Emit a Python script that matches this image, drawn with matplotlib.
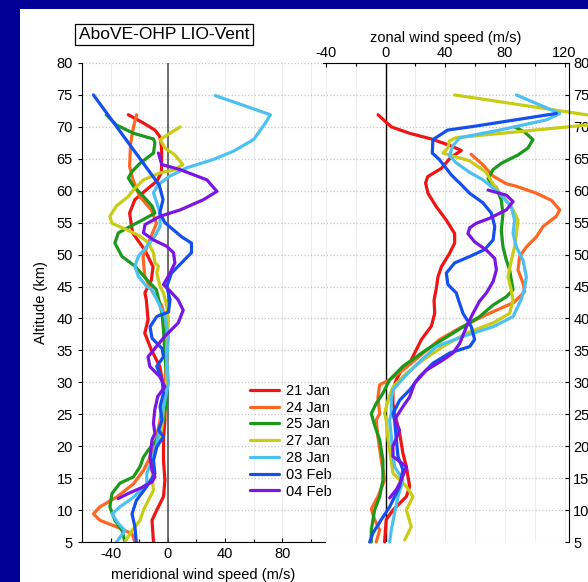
import matplotlib
matplotlib.use("Agg")
import matplotlib.pyplot as plt
from matplotlib.patches import Rectangle
from matplotlib.ticker import MultipleLocator

plt.rcParams["font.family"] = ["Liberation Sans", "DejaVu Sans"]
plt.rcParams["axes.unicode_minus"] = False

dates = ["21 Jan", "24 Jan", "25 Jan", "27 Jan", "28 Jan", "03 Feb", "04 Feb"]
colors = ["#f01414", "#ff6622", "#1a991a", "#c8cc14", "#4dc0f2", "#1450ee", "#7a16e4"]

# meridional wind (m/s), altitude (km)
mer_21jan = [(-27.6, 71.9), (-17, 70.6), (-9, 69.5), (-5.6, 68.5), (-4.4, 66.9), (-4.2, 65.4), (-4.5, 62.8),
             (-7.7, 61.5), (-14.7, 60.2), (-23, 58.6), (-26.7, 56.5), (-24.6, 53.4), (-16, 50.7), (-10.3, 48.1),
             (-11.5, 46), (-16, 44), (-15, 42.9), (-13.8, 39.8), (-16.1, 37.7), (-11.5, 35.1), (-5.6, 32.5),
             (-3, 29.3), (-2, 27.2), (-2, 24.1), (-3, 21), (-3, 17.8), (-2, 14.7), (-3, 12.1), (-7.7, 10),
             (-11, 8.4), (-10, 5)]
mer_24jan = [(-21.8, 71.9), (-24, 70), (-26, 67.4), (-26.7, 63.8), (-24.3, 61.7), (-19.6, 59.1), (-11.5, 57),
             (-7.9, 54.9), (-12.6, 52.3), (-17.3, 49.7), (-16.1, 46.6), (-10.3, 44), (-4.4, 42.1), (-1.5, 40),
             (-0.7, 37.7), (-0.7, 33.5), (-2, 30.4), (-3, 27.2), (-5.4, 24.1), (-7.7, 21.5), (-11, 18.9),
             (-17, 16.2), (-24, 14.1), (-36, 12), (-47.5, 10.5), (-52, 9.4), (-47.5, 8.4), (-36, 7.4),
             (-25, 6.3), (-23, 5)]
mer_25jan = [(-43, 71.9), (-36, 70.3), (-24, 69), (-10, 68.1), (-9, 67.5), (-10, 65.9), (-19.4, 64.3),
             (-25, 63), (-27.6, 62), (-24, 60.7), (-17, 59.1), (-11, 57.6), (-9, 56.5), (-17, 55.5),
             (-26.4, 54.4), (-34.6, 53.4), (-37, 51.8), (-32, 49.7), (-23, 48.2), (-14.7, 46.1), (-8, 44.5),
             (-4, 40.8), (-3, 38.2), (-2, 34.5), (-0.7, 30.4), (-0.7, 27.2), (-3, 24.1), (-7.7, 21),
             (-13.6, 19.4), (-17, 18.3), (-19.4, 16.8), (-24, 15.2), (-33.5, 14.2), (-39, 12.6),
             (-40.5, 10.5), (-37, 8.4), (-32, 6.8), (-30, 5)]
mer_27jan = [(8.7, 70), (1.6, 69), (-5.4, 68), (-1.9, 66.7), (5, 65.6), (10.5, 64.1), (5, 63.3), (-5.4, 62.8),
             (-17, 61.7), (-23, 60.4), (-27.6, 59.1), (-36, 57.6), (-40.5, 56), (-39, 54.9), (-28.8, 53.9),
             (-19.4, 52.9), (-13.6, 51.8), (-10, 50.3), (-9, 48.7), (-6.5, 48.2), (-7.7, 47.1), (-5.4, 45),
             (-3, 44), (-0.7, 41.9), (0.5, 39.8), (-0.7, 35.6), (-0.7, 30.4), (-3, 26.2), (-4, 23),
             (-7.7, 19.9), (-10, 17.8), (-11, 15.2), (-10, 13.1), (-13.6, 11.5), (-17, 10), (-19.4, 8.4),
             (-25, 6.8), (-30, 5)]
mer_28jan = [(33.2, 74.9), (71.8, 71.9), (68.3, 70.6), (60, 68), (46, 66.2), (32, 64.9), (13.3, 63.6),
             (1.6, 62.3), (-6.5, 61), (-10, 59.7), (-7.7, 58.1), (-5.4, 56.5), (-5.4, 54.4), (-9, 52.9),
             (-14.7, 51.3), (-20.6, 49.7), (-23, 48.2), (-20.6, 46.6), (-14.7, 45), (-11, 44.5), (-6.5, 42.4),
             (-2, 40.3), (0.5, 37.2), (-0.7, 33.5), (0.5, 29.8), (-3, 26.2), (-5.4, 23), (-7.7, 20.4),
             (-11, 17.8), (-14.7, 15.7), (-14.7, 14.1), (-24, 12), (-33.5, 10.5), (-39, 9.4), (-34.6, 7.9),
             (-30, 6.8), (-35.8, 5)]
mer_03feb = [(-52, 75), (-6, 60.9), (-3.3, 58.6), (-5.6, 56.5), (-2, 55), (9.6, 52.8), (16.6, 51.8),
             (16.6, 50.3), (9.6, 48.7), (2.6, 47.1), (-0.7, 45), (1.6, 42.9), (0.5, 41), (-7.7, 40.3),
             (-12.4, 38.7), (-11, 36.9), (-4, 35.3), (-3, 34), (-7.7, 32.5), (-4, 30.4), (-3, 28.3),
             (-5.4, 26.2), (-4, 24.1), (-6.5, 22.5), (-3, 21.5), (-7.7, 19.9), (-10, 17.8), (-9, 15.7),
             (-15, 13.6), (-22, 11.5), (-25, 9.4), (-23, 7.4), (-22, 5)]
mer_04feb = [(-6.5, 65.9), (-4.2, 64.1), (8.7, 63.3), (27.4, 61.7), (34.4, 59.9), (25, 58.6), (8.7, 57),
             (-5.4, 56), (-15.9, 54.7), (-17, 53.4), (-10, 52.3), (-0.7, 51.3), (4, 50.3), (5, 48.7),
             (1.6, 47.1), (-3, 45.3), (1.6, 44.3), (7.3, 42.9), (10.8, 41.3), (7.3, 39.3), (-2.1, 37.2),
             (-13.8, 34), (-12.6, 32.5), (-5.6, 30.9), (-2, 29.3), (-7, 27.8), (-9.1, 25.7), (-10, 23.6),
             (-9, 22), (-11, 21), (-12.4, 18.3), (-11, 16.2), (-9, 15.2), (-11, 14.4), (-19.4, 13.4),
             (-27.6, 12.6), (-34.6, 11.8)]

# zonal wind (m/s), altitude (km)
zon_21jan = [(-5.1, 71.9), (3.8, 70), (16, 69), (30.7, 68.1), (43, 67.1), (50.8, 66.3), (43.6, 65.2),
             (37.4, 63.5), (28.2, 62.2), (26.8, 61.2), (28.4, 59.6), (34, 57.5), (40.7, 55.4), (46.3, 53.3),
             (46.3, 51.8), (42.9, 50.2), (37.4, 48.1), (35.1, 46.5), (34, 44.7), (32.5, 42.9), (32.9, 40.8),
             (30.7, 38.8), (24, 36.7), (19.5, 34.6), (16.1, 33), (10.5, 31.9), (7.2, 30.4), (4.9, 28.8),
             (4.9, 26.7), (6, 25.1), (7.2, 24.1), (9.4, 22), (11.6, 18.9), (13.9, 16.8), (16.1, 13.7),
             (13.9, 12.1), (4.9, 10), (0.4, 8.5), (-0.7, 5)]
zon_24jan = [(57.3, 65.7), (65.1, 64.1), (72, 62.3), (80.9, 61.1), (87.7, 60.7), (101.2, 59.6), (111.2, 58.5),
             (116.8, 57), (114.5, 56), (105.6, 54.4), (101.2, 52.8), (94.4, 51.2), (89.9, 49.7), (88.8, 47.6),
             (92.2, 45.5), (93.3, 44.2), (86, 42.5), (67.6, 40.6), (49.7, 38.5), (36.2, 36.7), (22.8, 34.1),
             (11.6, 31.9), (2.7, 30.4), (-4, 29.6), (-5.2, 27.7), (-4, 25.1), (-6.3, 24.1), (-5.2, 21.5),
             (-2.9, 17.8), (-0.7, 14.7), (-5.2, 12.1), (-9.6, 10.2), (-7.4, 8.5), (-4, 6.9), (-6.3, 5)]
zon_25jan = [(86.5, 70), (93.2, 69.2), (98.8, 68), (95.5, 66.7), (88.8, 65.6), (77.6, 64.3), (72, 63.3),
             (68.7, 61.9), (70.9, 61.1), (74.3, 60.5), (77.6, 58.5), (78.7, 56.4), (77.6, 53.8), (78.7, 51.2),
             (81, 49.1), (83.2, 47.6), (84.3, 46), (85.5, 44.5), (81, 43.4), (72.1, 42.1), (63.1, 40.3),
             (45.2, 37.7), (27.3, 35.1), (11.6, 32.5), (2.7, 30.4), (-1.8, 28.3), (-6.3, 26.7), (-9.6, 25.1),
             (-7.4, 23.3), (-4, 21), (-1.8, 17.8), (-1.8, 14.7), (-4, 12.1), (-7.4, 10), (-9.6, 6.9), (-9.6, 5)]
zon_27jan = [(46.3, 75), (140, 71.7), (140, 70.4), (47.2, 68.3), (42.8, 67.8), (41.8, 66.7), (38.5, 65.9),
             (44, 65.5), (56.2, 64.7), (67.4, 62.9), (71.9, 61.1), (78.7, 59.1), (85.5, 57), (88.8, 55.4),
             (87.7, 53.3), (86.5, 51.2), (84.3, 49.1), (82.1, 46.5), (84.3, 44.4), (85.5, 42.9), (83.2, 40.8),
             (72.1, 39.3), (54.2, 37.7), (38.5, 35.6), (25.1, 33.5), (13.9, 31.4), (4.9, 29.3), (1.6, 27.2),
             (-0.7, 25.1), (0.4, 24.1), (1.6, 21), (3.8, 17.8), (4.9, 15.8), (13.9, 13.7), (18.3, 12.1),
             (13.9, 10), (17.2, 7.4), (12.8, 5.3)]
zon_28jan = [(87.7, 75), (116.8, 72.1), (108, 71.1), (76.5, 69.5), (49.7, 68.3), (45, 67), (42.8, 65.5),
             (47.2, 64.4), (56.2, 62.9), (65.3, 61.7), (76.5, 59.6), (84.3, 57.5), (86.5, 55.4), (85.5, 53.3),
             (87.7, 51.2), (92.2, 49.1), (94.4, 46.5), (93.3, 44.9), (91, 43), (85.5, 40.3), (72.1, 38.7),
             (52, 37.2), (34, 35.6), (21.7, 33), (12.8, 30.9), (4.9, 28.8), (3.8, 27.2), (3.8, 25.1),
             (2.7, 24.1), (3.8, 21.5), (4.9, 18.9), (6, 16.8), (11.6, 14.7), (8.3, 12.1), (6, 9.5),
             (3.8, 6.9), (2.7, 5)]
zon_03feb = [(114.5, 72.1), (59.7, 70.1), (41.6, 69.5), (31.7, 68), (31.3, 65.9), (36, 64.9), (44, 62.5),
             (47.4, 61.7), (49.7, 61.2), (56.4, 59.6), (65.3, 58.1), (70.9, 56.5), (73.2, 54.4), (72.1, 52.3),
             (66.5, 50.8), (56.4, 49.7), (46.3, 48.7), (40.7, 47.1), (41.8, 45.3), (47.4, 44), (49, 42.8),
             (51.9, 40.8), (57.5, 38.7), (59.7, 36.7), (56.4, 35.6), (43, 34.6), (31.8, 33), (22.8, 30.9),
             (16.1, 28.8), (9.4, 27.2), (4.9, 25.1), (6, 24.1), (7.2, 21), (8.3, 18.4), (11.6, 16.3),
             (9.4, 13.7), (2.7, 10.5), (-2.9, 8.5), (-8.5, 6.4), (-10.7, 5)]
zon_04feb = [(68.7, 60.1), (81, 59.3), (85.5, 58.3), (81, 57), (69.8, 55.7), (60.8, 54.9), (56.4, 54.2),
             (55.2, 53.3), (59.7, 52), (67.6, 50.7), (73.2, 49.4), (74.3, 47.6), (72.1, 45.8), (67.6, 44),
             (63, 42.7), (58.6, 40.8), (54.2, 38.7), (49.7, 36.1), (45.2, 34.6), (38.5, 33.5), (27.3, 31.9),
             (19.5, 29.9), (16.1, 27.7), (11.6, 26.2), (7.2, 24.6), (6, 24.1), (9.4, 22.5), (4.9, 20),
             (4.9, 18.4), (13.9, 16.8), (10.5, 14.7), (7.2, 13.2), (2.7, 11.9)]

meridional = [mer_21jan, mer_24jan, mer_25jan, mer_27jan, mer_28jan, mer_03feb, mer_04feb]
zonal = [zon_21jan, zon_24jan, zon_25jan, zon_27jan, zon_28jan, zon_03feb, zon_04feb]

W, H = 588, 582
fig = plt.figure(figsize=(W / 100, H / 100), dpi=100, facecolor="#000096")
fig.add_artist(Rectangle((20 / W, 0), 1 - 20 / W, 1 - 9 / H, transform=fig.transFigure,
                         facecolor="white", edgecolor="none", zorder=0))

bottom = (H - 542) / H
height = 479 / H
ax_m = fig.add_axes([82 / W, bottom, 243 / W, height])
ax_z = fig.add_axes([323 / W, bottom, 246 / W, height])
ax_z.patch.set_alpha(0)

for ax in (ax_m, ax_z):
    ax.set_ylim(5, 80)
    ax.yaxis.set_major_locator(MultipleLocator(5))
    ax.xaxis.set_major_locator(MultipleLocator(40))
    ax.xaxis.set_minor_locator(MultipleLocator(20))
    ax.grid(axis="y", which="major", color="#c4c4c4", linestyle=":", linewidth=0.9)
    ax.grid(axis="x", which="both", color="#ebebeb", linestyle="-", linewidth=0.6)
    ax.tick_params(labelsize=10.5, length=3, width=0.8)
    ax.tick_params(which="minor", length=2, width=0.8)
    ax.set_axisbelow(True)

# meridional panel
ax_m.set_xlim(-60, 110)
ax_m.set_xticks([-40, 0, 40, 80])
ax_m.spines["top"].set_visible(False)
ax_m.spines["right"].set_visible(False)
ax_m.tick_params(axis="x", which="both", direction="in")
ax_m.tick_params(axis="y", direction="out")
ax_m.axvline(0, color="#555555", linewidth=1.2, zorder=1)
for pts, c, d in zip(meridional, colors, dates):
    ax_m.plot([p[0] for p in pts], [p[1] for p in pts], color=c, lw=2.3, label=d,
              solid_joinstyle="round", solid_capstyle="round")
ax_m.set_xlabel("meridional wind speed (m/s)", fontsize=10.5, labelpad=5)
ax_m.set_ylabel("Altitude (km)", fontsize=10.5, labelpad=6)
ax_m.legend(loc="upper left", bbox_to_anchor=(0.69, 0.33), frameon=False, fontsize=10.5,
            handlelength=2.0, handletextpad=0.5, labelspacing=0.19, borderpad=0, borderaxespad=0)

# zonal panel
ax_z.set_xlim(-42, 123)
ax_z.set_xticks([-40, 0, 40, 80, 120])
ax_z.xaxis.tick_top()
ax_z.xaxis.set_label_position("top")
ax_z.yaxis.tick_right()
ax_z.spines["left"].set_visible(False)
ax_z.spines["bottom"].set_visible(False)
ax_z.tick_params(axis="x", which="both", direction="in", pad=2)
ax_z.tick_params(axis="y", direction="in", pad=3)
ax_z.axvline(0, color="black", linewidth=1.0, zorder=1)
for pts, c in zip(zonal, colors):
    ax_z.plot([p[0] for p in pts], [p[1] for p in pts], color=c, lw=2.3, clip_on=False,
              solid_joinstyle="round", solid_capstyle="round")
ax_z.set_xlabel("zonal wind speed (m/s)", fontsize=10.5, labelpad=3)

fig.text(164 / W, 1 - 34.5 / H, "AboVE-OHP LIO-Vent", fontsize=12.5, ha="center", va="center",
         bbox=dict(boxstyle="square,pad=0.2", facecolor="white", edgecolor="black", linewidth=0.9))

fig.savefig("out.png", dpi=100, facecolor=fig.get_facecolor())
